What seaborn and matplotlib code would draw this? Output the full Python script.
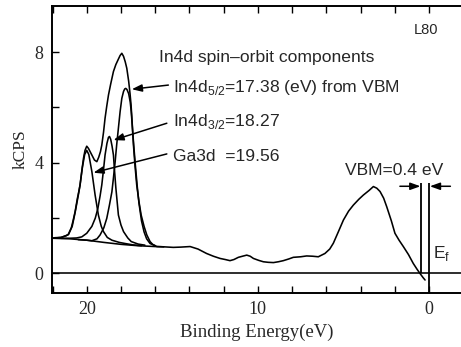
import matplotlib
matplotlib.use("Agg")
import matplotlib.pyplot as plt
import seaborn as sns
import pandas as pd
from matplotlib.ticker import MultipleLocator, FixedLocator

# ---------------- data ----------------
env_x = [22.0, 21.85, 21.5, 21.2, 21.07, 20.9, 20.8, 20.68, 20.55, 20.45, 20.39, 20.3, 20.19,
         20.1, 20.0, 19.9, 19.8, 19.7, 19.55, 19.41, 19.3, 19.2, 19.12, 19.02, 18.93, 18.83,
         18.73, 18.6, 18.44, 18.3, 18.15, 18.05, 17.95, 17.85, 17.75, 17.66, 17.55, 17.47,
         17.41, 17.35, 17.27, 17.18, 17.08, 16.95, 16.82, 16.65, 16.49, 16.3, 16.15, 16.0,
         15.9, 15.5, 14.94, 14.5, 13.96, 13.5, 13.0, 12.6, 12.21, 11.9, 11.63, 11.4, 11.14,
         10.9, 10.65, 10.45, 10.26, 9.95, 9.68, 9.4, 9.09, 8.8, 8.51, 8.2, 7.93, 7.5, 7.15,
         6.8, 6.47, 6.08, 5.8, 5.59, 5.3, 5.0, 4.7, 4.42, 4.1, 3.84, 3.5, 3.25, 3.05, 2.86,
         2.65, 2.47, 2.2, 1.99, 1.75, 1.5, 1.2, 0.92, 0.7, 0.53, 0.35, 0.23]
env_y = [1.27, 1.29, 1.30, 1.36, 1.42, 1.65, 1.90, 2.23, 2.70, 3.00, 3.20, 3.65, 4.16,
         4.45, 4.60, 4.52, 4.40, 4.28, 4.10, 4.04, 4.20, 4.40, 4.64, 5.10, 5.61, 6.05,
         6.45, 6.85, 7.30, 7.55, 7.75, 7.88, 7.96, 7.85, 7.65, 7.42, 6.95, 6.50,
         6.09, 5.50, 4.64, 3.90, 3.20, 2.60, 2.11, 1.70, 1.39, 1.15, 1.05, 1.00,
         0.97, 0.96, 0.94, 0.95, 0.97, 0.88, 0.72, 0.62, 0.54, 0.50, 0.46, 0.50, 0.58,
         0.62, 0.66, 0.62, 0.54, 0.47, 0.42, 0.40, 0.39, 0.42, 0.46, 0.52, 0.58, 0.60, 0.63,
         0.62, 0.60, 0.72, 0.88, 1.09, 1.50, 1.93, 2.25, 2.47, 2.68, 2.83, 3.00, 3.14, 3.08, 2.96,
         2.72, 2.41, 1.90, 1.45, 1.20, 0.97, 0.68, 0.36, 0.15, 0.00, -0.15, -0.24]

in52_x = [20.5, 20.0, 19.7, 19.4, 19.22, 19.0, 18.83, 18.68, 18.53, 18.44, 18.34, 18.25, 18.15,
          18.05, 17.95, 17.85, 17.78, 17.72, 17.65, 17.55, 17.46, 17.4, 17.33, 17.25, 17.15,
          17.05, 16.95, 16.8, 16.65, 16.5, 16.3, 16.0]
in52_y = [1.22, 1.20, 1.18, 1.25, 1.39, 1.65, 1.99, 2.45, 2.95, 3.45, 4.04, 4.65, 5.25,
          5.85, 6.33, 6.58, 6.67, 6.69, 6.65, 6.50, 6.20, 5.85, 5.25, 4.60, 3.85,
          3.15, 2.55, 1.90, 1.50, 1.25, 1.08, 1.00]

in32_x = [21.5, 21.0, 20.6, 20.29, 20.0, 19.7, 19.5, 19.35, 19.22, 19.12, 19.02, 18.93, 18.82,
          18.73, 18.67, 18.6, 18.52, 18.44, 18.38, 18.3, 18.15, 18.0, 17.85, 17.6, 17.4, 17.0,
          16.6]
in32_y = [1.27, 1.27, 1.28, 1.32, 1.45, 1.70, 2.00, 2.35, 2.80, 3.20, 3.75, 4.28, 4.70,
          4.92, 4.95, 4.85, 4.60, 4.28, 3.75, 3.10, 2.11, 1.75, 1.51, 1.28, 1.15, 1.06,
          1.02]

ga_x = [22.0, 21.5, 21.07, 20.85, 20.68, 20.5, 20.39, 20.25, 20.12, 20.0, 19.88, 19.7, 19.51,
        19.32, 19.15, 19.02, 18.8, 18.53, 18.1, 17.76, 17.3, 16.8]
ga_y = [1.27, 1.30, 1.40, 1.70, 2.20, 2.80, 3.20, 3.85, 4.30, 4.45, 4.30, 3.68, 2.83,
        2.11, 1.70, 1.51, 1.30, 1.20, 1.12, 1.08, 1.03, 1.00]

bg_x = [22.0, 21.0, 20.0, 19.0, 18.0, 17.0, 16.0, 15.5]
bg_y = [1.27, 1.25, 1.20, 1.12, 1.05, 1.00, 0.97, 0.96]

vbm_pos = 0.45
ef_pos = 0.0
marker_top = 3.28
arrow_level = 3.15

x_major_ticks = [20, 10, 0]
y_major_ticks = [0, 4, 8]

labels = {
    "title": "In4d spin\u2013orbit components",
    "in52": "In4d$_{\\mathregular{5/2}}$=17.38 (eV) from VBM",
    "in32": "In4d$_{\\mathregular{3/2}}$=18.27",
    "ga": "Ga3d  =19.56",
    "vbm": "VBM=0.4 eV",
    "sample": "L80",
    "ef": "E$_{\\mathregular{f}}$",
}

# ---------------- figure ----------------
sns.set_theme(style="ticks")
plt.rcParams["font.family"] = ["Liberation Sans", "DejaVu Sans"]
plt.rcParams["mathtext.fontset"] = "custom"
plt.rcParams["mathtext.rm"] = "Liberation Sans"

fig = plt.figure(figsize=(4.61, 3.47), dpi=100)
ax = fig.add_axes([52 / 461, 54 / 347, 1 - 52 / 461, 287 / 347])

lw = 1.15
for xs, ys in [(env_x, env_y), (in52_x, in52_y), (in32_x, in32_y), (ga_x, ga_y), (bg_x, bg_y)]:
    df = pd.DataFrame({"x": xs, "y": ys})
    sns.lineplot(data=df, x="x", y="y", ax=ax, sort=False, estimator=None,
                 color="black", linewidth=lw)

ax.axhline(0, color="black", linewidth=lw)
ax.vlines([vbm_pos], 0, marker_top, color="black", linewidth=1.3)
ax.vlines([ef_pos], -0.71, marker_top, color="black", linewidth=1.3)

arrow_kw = dict(arrowstyle="-|>,head_length=0.5,head_width=0.18", color="black", lw=1.1,
                shrinkA=0, shrinkB=0)
ax.annotate("", xy=(vbm_pos + 0.05, arrow_level), xytext=(1.7, arrow_level), arrowprops=arrow_kw)
ax.annotate("", xy=(ef_pos - 0.05, arrow_level), xytext=(-1.25, arrow_level), arrowprops=arrow_kw)

ax.annotate("", xy=(17.37, 6.66), xytext=(15.23, 6.81), arrowprops=arrow_kw)
ax.annotate("", xy=(18.44, 4.82), xytext=(15.32, 5.43), arrowprops=arrow_kw)
ax.annotate("", xy=(19.61, 3.64), xytext=(15.32, 4.32), arrowprops=arrow_kw)

fs = 12.6
ax.text(15.77, 7.81, labels["title"], fontsize=fs, va="center", ha="left")
ax.text(14.97, 6.74, labels["in52"], fontsize=fs, va="center", ha="left")
ax.text(14.97, 5.49, labels["in32"], fontsize=fs, va="center", ha="left")
ax.text(14.97, 4.22, labels["ga"], fontsize=fs, va="center", ha="left")
ax.text(2.04, 3.72, labels["vbm"], fontsize=fs, va="center", ha="center")
ax.text(0.18, 8.8, labels["sample"], fontsize=10.5, va="center", ha="center")
ax.text(-0.25, 0.72, labels["ef"], fontsize=fs, va="center", ha="left")

ax.set_xlim(22.03, -1.87)
ax.set_ylim(-0.71, 9.67)

ax.xaxis.set_major_locator(FixedLocator(x_major_ticks))
ax.xaxis.set_minor_locator(MultipleLocator(2))
ax.yaxis.set_major_locator(FixedLocator(y_major_ticks))
ax.yaxis.set_minor_locator(MultipleLocator(2))
ax.tick_params(which="both", direction="in", top=True, right=False, width=1.0, color="black")
ax.tick_params(which="major", length=5, pad=6)
ax.tick_params(which="minor", length=5)

serif = ["Liberation Serif", "DejaVu Serif"]
for lab in ax.get_xticklabels() + ax.get_yticklabels():
    lab.set_family(serif)
    lab.set_fontsize(13)
ax.set_xlabel("Binding Energy(eV)", family=serif, fontsize=13.5, labelpad=4)
ax.set_ylabel("kCPS", family=serif, fontsize=12.5, labelpad=4)

for s in ["left", "bottom", "top"]:
    ax.spines[s].set_linewidth(1.4)
    ax.spines[s].set_color("black")
ax.spines["right"].set_visible(False)

fig.savefig("out.png", dpi=100)
